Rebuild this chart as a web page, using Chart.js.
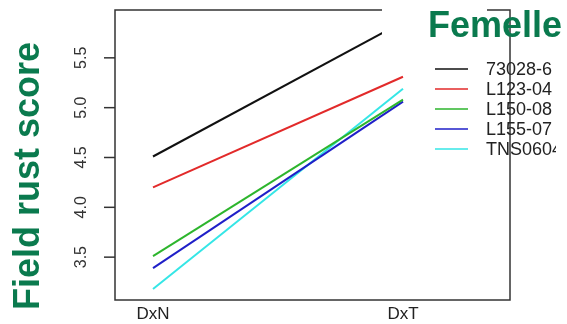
<!DOCTYPE html>
<html>
<head>
<meta charset="utf-8">
<script src="https://cdn.jsdelivr.net/npm/chart.js@4.4.1/dist/chart.umd.min.js"></script>
<style>
  html, body { margin: 0; padding: 0; background: #fff; }
  #wrap { width: 567px; height: 324px; position: relative; }
</style>
</head>
<body>
<div id="wrap"><canvas id="c" width="567" height="324"></canvas></div>
<script>
// ---- data ----
const categories = ['DxN', 'DxT'];
const seriesNames = ['73028-6', 'L123-04', 'L150-08', 'L155-07', 'TNS0604'];
const valuesDxN = [4.51, 4.20, 3.51, 3.39, 3.18];
const valuesDxT = [5.86, 5.31, 5.08, 5.06, 5.19];
const seriesColors = ['#111111', '#e22a2a', '#2db52d', '#1f1fc8', '#35e6e6'];
const yTicks = [3.5, 4.0, 4.5, 5.0, 5.5];
const yTitle = 'Field rust score';
const legendTitle = 'Femelle';

const FONT = '"Liberation Sans", Arial, sans-serif';
const GREEN = '#0a7a4e';

const datasets = seriesNames.map((name, i) => ({
  label: name,
  data: [{x: 1, y: valuesDxN[i]}, {x: 2, y: valuesDxT[i]}],
  borderColor: seriesColors[i],
  backgroundColor: seriesColors[i],
  borderWidth: 2,
  pointRadius: 0,
  tension: 0,
  fill: false
}));

const decor = {
  id: 'decor',
  afterDraw(chart) {
    const ctx = chart.ctx;
    const a = chart.chartArea;
    const ys = chart.scales.y;
    ctx.save();
    // plot box
    ctx.strokeStyle = '#333';
    ctx.lineWidth = 1.5;
    ctx.strokeRect(a.left, a.top, a.right - a.left, a.bottom - a.top);
    // y ticks and rotated labels
    ctx.fillStyle = '#333';
    ctx.font = '16px ' + FONT;
    ctx.textAlign = 'center';
    ctx.textBaseline = 'middle';
    yTicks.forEach(v => {
      const py = ys.getPixelForValue(v);
      ctx.beginPath();
      ctx.moveTo(a.left - 11, py);
      ctx.lineTo(a.left, py);
      ctx.stroke();
      ctx.save();
      ctx.translate(82, py);
      ctx.rotate(-Math.PI / 2);
      ctx.fillText(v.toFixed(1), 0, 0);
      ctx.restore();
    });
    // y title
    ctx.save();
    ctx.translate(29, 176);
    ctx.rotate(-Math.PI / 2);
    ctx.fillStyle = GREEN;
    ctx.font = 'bold 36px ' + FONT;
    ctx.textAlign = 'center';
    ctx.textBaseline = 'middle';
    ctx.fillText(yTitle, 0, 0);
    ctx.restore();
    // white patch behind legend title
    ctx.fillStyle = '#fff';
    ctx.fillRect(382, 0, 105, 42);
    // legend title
    ctx.fillStyle = GREEN;
    ctx.font = 'bold 36px ' + FONT;
    ctx.textAlign = 'left';
    ctx.textBaseline = 'alphabetic';
    ctx.fillText(legendTitle, 428, 37);
    // legend entries
    ctx.beginPath();
    ctx.rect(0, 0, 556, 324);
    ctx.clip();
    ctx.font = '18px ' + FONT;
    ctx.textBaseline = 'middle';
    seriesNames.forEach((name, i) => {
      const y = 69 + i * 20;
      ctx.strokeStyle = seriesColors[i];
      ctx.lineWidth = 1.5;
      ctx.beginPath();
      ctx.moveTo(435, y);
      ctx.lineTo(468, y);
      ctx.stroke();
      ctx.fillStyle = '#222';
      ctx.fillText(name, 486, y + 1);
    });
    ctx.restore();
  }
};

new Chart(document.getElementById('c'), {
  type: 'line',
  data: { datasets },
  options: {
    responsive: false,
    animation: false,
    layout: { padding: { left: 0, right: 57, top: 10, bottom: 0 } },
    plugins: { legend: { display: false }, tooltip: { enabled: false } },
    scales: {
      x: {
        type: 'linear',
        min: 0.848,
        max: 2.428,
        grid: { display: false, drawTicks: false, tickLength: 0 },
        border: { display: false },
        afterBuildTicks: s => { s.ticks = categories.map((c, i) => ({ value: i + 1 })); },
        afterFit: s => { s.height = 24; },
        ticks: {
          padding: 4,
          color: '#222',
          font: { family: FONT, size: 17 },
          maxRotation: 0,
          callback: v => categories[v - 1] || ''
        }
      },
      y: {
        type: 'linear',
        min: 3.07,
        max: 5.98,
        grid: { display: false },
        border: { display: false },
        ticks: { display: false },
        afterFit: s => { s.width = 115; }
      }
    }
  },
  plugins: [decor]
});
</script>
</body>
</html>
